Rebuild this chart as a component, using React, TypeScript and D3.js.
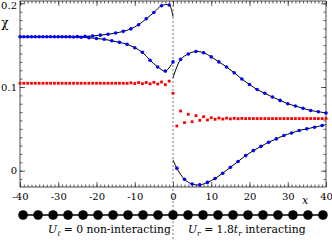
import React, { useEffect, useRef } from 'react';
import * as d3 from 'd3';

// susceptibility chi along the chain
const leftOddSites = d3.range(-39, 0, 2);
const leftOddChi = [0.16, 0.16, 0.16, 0.16, 0.16, 0.16, 0.16, 0.1602, 0.1605, 0.161,
  0.162, 0.163, 0.1645, 0.1665, 0.1695, 0.1745, 0.1815, 0.189, 0.1972, 0.198];
const leftOddEnd = 0.184;

const leftEvenSites = d3.range(-40, 1, 2);
const leftEvenChi = [0.16, 0.16, 0.16, 0.16, 0.16, 0.16, 0.16, 0.1598, 0.1595, 0.159,
  0.158, 0.157, 0.1553, 0.1534, 0.151, 0.147, 0.1415, 0.132, 0.124, 0.119, 0.13];

const rightEvenSites = d3.range(2, 41, 2);
const rightEvenChi = [0.133, 0.1395, 0.1425, 0.141, 0.136, 0.13, 0.124, 0.117, 0.1095, 0.103,
  0.097, 0.0925, 0.088, 0.084, 0.08, 0.0773, 0.0745, 0.072, 0.0705, 0.069];
const rightEvenStart = 0.111;

const rightOddSites = d3.range(1, 40, 2);
const rightOddChi = [0.003, -0.0102, -0.016, -0.017, -0.014, -0.0093, -0.003, 0.004, 0.011, 0.018,
  0.024, 0.029, 0.034, 0.038, 0.042, 0.045, 0.048, 0.05, 0.052, 0.054];
const rightOddStart = 0.013;
const rightOddEnd = 0.055;

const redSites = d3.range(-40, 41);
const redChi = [
  0.1045, 0.1045, 0.1045, 0.1045, 0.1045, 0.1045, 0.1045, 0.1045, 0.1045, 0.1045,
  0.1045, 0.1045, 0.1045, 0.1045, 0.1045, 0.1045, 0.1045, 0.1045, 0.1045, 0.1045,
  0.1045, 0.1045, 0.1045, 0.1045, 0.1045, 0.1045, 0.1045, 0.1045,
  0.1043, 0.105, 0.1042, 0.1053, 0.104, 0.1054, 0.1038, 0.1056, 0.1036, 0.106, 0.1028, 0.107,
  0.0925,
  0.0534, 0.0713, 0.0574, 0.0674, 0.0585, 0.0657, 0.0602, 0.0645, 0.0606, 0.0633,
  0.0614, 0.063, 0.0617, 0.0628, 0.0619, 0.0626, 0.0621, 0.0625, 0.0622, 0.0624,
  0.0623, 0.0623, 0.0623, 0.0623, 0.0623, 0.0623, 0.0623, 0.0623, 0.0623, 0.0623,
  0.0623, 0.0623, 0.0623, 0.0623, 0.0623, 0.0623, 0.0623, 0.0623, 0.0623, 0.0623,
];

const xMajor = [-40, -30, -20, -10, 0, 10, 20, 30, 40];
const yMajor = [0, 0.1, 0.2];
const yLabels = ['0', '0.1', '0.2'];
const chainSites = d3.range(-10, 11);

const W = 332, H = 241;
const serif = '"DejaVu Serif", serif';

export default function App() {
  const axRef = useRef<SVGGElement>(null);

  const x = d3.scaleLinear().domain([-40, 40]).range([20, 326]);
  const y = d3.scaleLinear().domain([-0.0195, 0.2028]).range([187, 1]);
  const chainX = d3.scalePoint<number>().domain(chainSites).range([x(-39.2), x(39.2)]);

  const line = d3.line<[number, number]>()
    .x(d => x(d[0]))
    .y(d => y(d[1]))
    .curve(d3.curveCatmullRom);

  const zip = (s: number[], v: number[]) => s.map((d, i) => [d, v[i]] as [number, number]);
  const leftOdd = zip(leftOddSites, leftOddChi);
  const leftEven = zip(leftEvenSites, leftEvenChi);
  const rightEven = zip(rightEvenSites, rightEvenChi);
  const rightOdd = zip(rightOddSites, rightOddChi);
  const red = zip(redSites, redChi);

  const curves = [
    [[-40, leftOddChi[0]] as [number, number], ...leftOdd, [0, leftOddEnd] as [number, number]],
    leftEven,
    [[0, rightEvenStart] as [number, number], ...rightEven],
    [[0, rightOddStart] as [number, number], ...rightOdd, [40, rightOddEnd] as [number, number]],
  ];
  const blue = [...leftOdd, ...leftEven, ...rightEven, ...rightOdd];

  useEffect(() => {
    const g = d3.select(axRef.current);
    g.selectAll('*').remove();
    const minorX = d3.range(-40, 41);
    const minorY = d3.range(-1, 21).map(i => i / 100);
    const fmt = (d: any) => yLabels[yMajor.indexOf(d)] ?? '';

    const add = (axis: any, tr: string) => {
      const a = g.append('g').attr('transform', tr).call(axis);
      a.attr('font-family', serif).attr('font-size', 10);
      a.select('.domain').remove();
      a.selectAll('line').attr('stroke', '#222').attr('stroke-width', 0.7);
      a.selectAll('text').attr('fill', '#000');
      return a;
    };

    add(d3.axisBottom(x).tickValues(xMajor).tickSize(-5).tickPadding(5.5).tickFormat(d => String(d)), 'translate(0,187)');
    add(d3.axisBottom(x).tickValues(minorX).tickSize(-2.5).tickFormat(() => ''), 'translate(0,187)');
    add(d3.axisTop(x).tickValues(xMajor).tickSize(-5).tickFormat(() => ''), 'translate(0,1)');
    add(d3.axisTop(x).tickValues(minorX).tickSize(-2.5).tickFormat(() => ''), 'translate(0,1)');
    const left = add(d3.axisLeft(y).tickValues(yMajor).tickSize(-5).tickPadding(3).tickFormat(fmt), 'translate(20,0)');
    // keep the top label inside the picture
    left.selectAll('text').filter((d: any) => d === 0.2).attr('dy', '0.55em');
    add(d3.axisLeft(y).tickValues(minorY).tickSize(-2.5).tickFormat(() => ''), 'translate(20,0)');
    add(d3.axisRight(y).tickValues(yMajor).tickSize(-5).tickFormat(() => ''), 'translate(326,0)');
    add(d3.axisRight(y).tickValues(minorY).tickSize(-2.5).tickFormat(() => ''), 'translate(326,0)');
  }, []);

  return (
    <svg width={W} height={H} style={{ position: 'absolute', left: 0, top: 0, background: '#fff' }}>
      <rect x={20} y={1} width={306} height={186} fill="none" stroke="#222" strokeWidth={0.8} />
      <g ref={axRef} />
      <line x1={x(0)} x2={x(0)} y1={1} y2={H} stroke="#444" strokeWidth={0.7} strokeDasharray="2,2" />

      {curves.map((c, i) => (
        <path key={i} d={line(c) ?? ''} fill="none" stroke="#000" strokeWidth={1} />
      ))}
      {red.map((d, i) => (
        <rect key={i} x={x(d[0]) - 1.4} y={y(d[1]) - 1.4} width={2.8} height={2.8} fill="#ff0000" />
      ))}
      {blue.map((d, i) => (
        <circle key={i} cx={x(d[0])} cy={y(d[1])} r={1.8} fill="#0000ff" />
      ))}

      <text x={5} y={27} fontSize={12} textAnchor="middle" fontFamily={serif}>χ</text>
      <text x={305} y={204} fontSize={11} fontStyle="italic" textAnchor="middle" fontFamily={serif}>x</text>

      <line x1={chainX(-10)} x2={chainX(10)} y1={215} y2={215} stroke="#000" strokeWidth={1.3} />
      {chainSites.map(s => (
        <circle key={s} cx={chainX(s)} cy={215} r={4.8} fill="#000" />
      ))}

      <text x={48} y={233} fontSize={10.8} fontFamily={serif}>
        <tspan fontStyle="italic">U</tspan>
        <tspan fontStyle="italic" fontSize={7.5} dy={2.5}>ℓ</tspan>
        <tspan dy={-2.5}> = 0 non-interacting</tspan>
      </text>
      <text x={188} y={233} fontSize={10.8} fontFamily={serif}>
        <tspan fontStyle="italic">U</tspan>
        <tspan fontStyle="italic" fontSize={7.5} dy={2.5}>r</tspan>
        <tspan dy={-2.5}> = 1.8</tspan>
        <tspan fontStyle="italic">t</tspan>
        <tspan fontStyle="italic" fontSize={7.5} dy={2.5}>r</tspan>
        <tspan dy={-2.5}> interacting</tspan>
      </text>
    </svg>
  );
}
